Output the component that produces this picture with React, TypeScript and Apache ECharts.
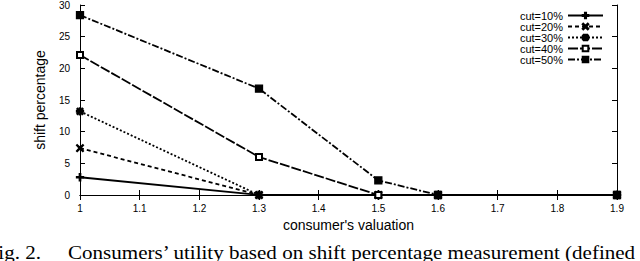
import React, { useEffect, useRef } from "react";
import * as echarts from "echarts";

const xValues = [1, 1.3, 1.5, 1.6, 1.9];
const seriesNames = ["cut=10%", "cut=20%", "cut=30%", "cut=40%", "cut=50%"];
const cut10 = [2.8, 0, 0, 0, 0];
const cut20 = [7.4, 0, 0, 0, 0];
const cut30 = [13.2, 0, 0, 0, 0];
const cut40 = [22.1, 6.0, 0, 0, 0];
const cut50 = [28.4, 16.8, 2.3, 0, 0];
const yTicks = [0, 5, 10, 15, 20, 25, 30];

const PLUS = "path://M4,0H6V4H10V6H6V10H4V6H0V4H4Z";
const CROSS = "path://M1,0L5,3.6L9,0L10,1L6.4,5L10,9L9,10L5,6.4L1,10L0,9L3.6,5L0,1Z";
const STAR = "path://M4,0H6V4H10V6H6V10H4V6H0V4H4ZM1.5,0.5L5,4L8.5,0.5L9.5,1.5L6,5L9.5,8.5L8.5,9.5L5,6L1.5,9.5L0.5,8.5L4,5L0.5,1.5Z";

export default function App() {
  const ref = useRef<HTMLDivElement>(null);
  useEffect(() => {
    const chart = echarts.init(ref.current!, null, { renderer: "svg" });
    const font = "Liberation Sans";
    const mk = (name: string, vals: number[], symbol: string, size: number, dash: any, z: number) => ({
      name,
      type: "line",
      data: xValues.map((x, i) => [x, vals[i]]),
      symbol,
      symbolSize: size,
      showSymbol: true,
      z,
      lineStyle: { color: "#000", width: 1.8, type: dash },
      itemStyle: { color: "#000", borderColor: "#000", borderWidth: 1.3 },
      emphasis: { disabled: true },
    });
    chart.setOption({
      animation: false,
      backgroundColor: "#fff",
      textStyle: { fontFamily: font },
      grid: { left: 80, right: 23, top: 4, bottom: 66 },
      legend: {
        orient: "vertical",
        right: 36,
        top: 10,
        padding: 0,
        align: "right",
        itemWidth: 35,
        itemHeight: 7,
        itemGap: 0,
        textStyle: { fontSize: 11, lineHeight: 11, color: "#000", fontFamily: font },
        data: seriesNames,
      },
      xAxis: [
        {
          type: "value",
          min: 1,
          max: 1.9,
          interval: 0.1,
          name: "consumer's valuation",
          nameLocation: "middle",
          nameGap: 22,
          nameTextStyle: { fontSize: 14, color: "#000", fontFamily: font },
          axisLine: { lineStyle: { color: "#000", width: 1 } },
          axisTick: { inside: true, length: 5, lineStyle: { color: "#000" } },
          axisLabel: {
            fontSize: 10,
            color: "#000",
            margin: 8,
            formatter: (v: number) => String(Math.round(v * 10) / 10),
          },
          splitLine: { show: false },
        },
        {
          type: "value",
          position: "top",
          min: 1,
          max: 1.9,
          interval: 0.1,
          axisLine: { show: true, lineStyle: { color: "#000", width: 1 } },
          axisTick: { inside: true, length: 5, lineStyle: { color: "#000" } },
          axisLabel: { show: false },
          splitLine: { show: false },
        },
      ],
      yAxis: [
        {
          type: "value",
          min: yTicks[0],
          max: yTicks[yTicks.length - 1],
          interval: 5,
          name: "shift percentage",
          nameLocation: "middle",
          nameGap: 33,
          nameTextStyle: { fontSize: 14, color: "#000", fontFamily: font },
          axisLine: { show: true, lineStyle: { color: "#000", width: 1 } },
          axisTick: { show: true, inside: true, length: 5, lineStyle: { color: "#000" } },
          axisLabel: { fontSize: 10, color: "#000", margin: 10 },
          splitLine: { show: false },
        },
        {
          type: "value",
          position: "right",
          min: yTicks[0],
          max: yTicks[yTicks.length - 1],
          interval: 5,
          axisLine: { show: true, lineStyle: { color: "#000", width: 1 } },
          axisTick: { show: true, inside: true, length: 5, lineStyle: { color: "#000" } },
          axisLabel: { show: false },
          splitLine: { show: false },
        },
      ],
      series: [
        mk(seriesNames[0], cut10, PLUS, 7, "solid", 2),
        mk(seriesNames[1], cut20, CROSS, 7, [4, 3], 3),
        mk(seriesNames[2], cut30, STAR, 7, [2, 2], 4),
        { ...mk(seriesNames[3], cut40, "emptyRect", 6, [10, 2], 5), itemStyle: { color: "#000", borderColor: "#000", borderWidth: 1.5 } },
        mk(seriesNames[4], cut50, "rect", 7, [7, 2, 2, 2], 6),
      ],
      graphic: [
        {
          type: "text",
          x: 41,
          y: 244,
          scaleX: 1.17,
          style: { text: "Fig. 2.", font: "18px 'Liberation Serif'", fill: "#000", textAlign: "right", textVerticalAlign: "top" },
        },
        {
          type: "text",
          x: 68,
          y: 244,
          scaleX: 1.17,
          style: {
            text: "Consumers\u2019 utility based on shift percentage measurement (defined",
            font: "18px 'Liberation Serif'",
            fill: "#000",
            textVerticalAlign: "top",
          },
        },
      ],
    });
    return () => chart.dispose();
  }, []);
  return <div ref={ref} style={{ width: 640, height: 261, position: "absolute", left: 0, top: 0 }} />;
}
